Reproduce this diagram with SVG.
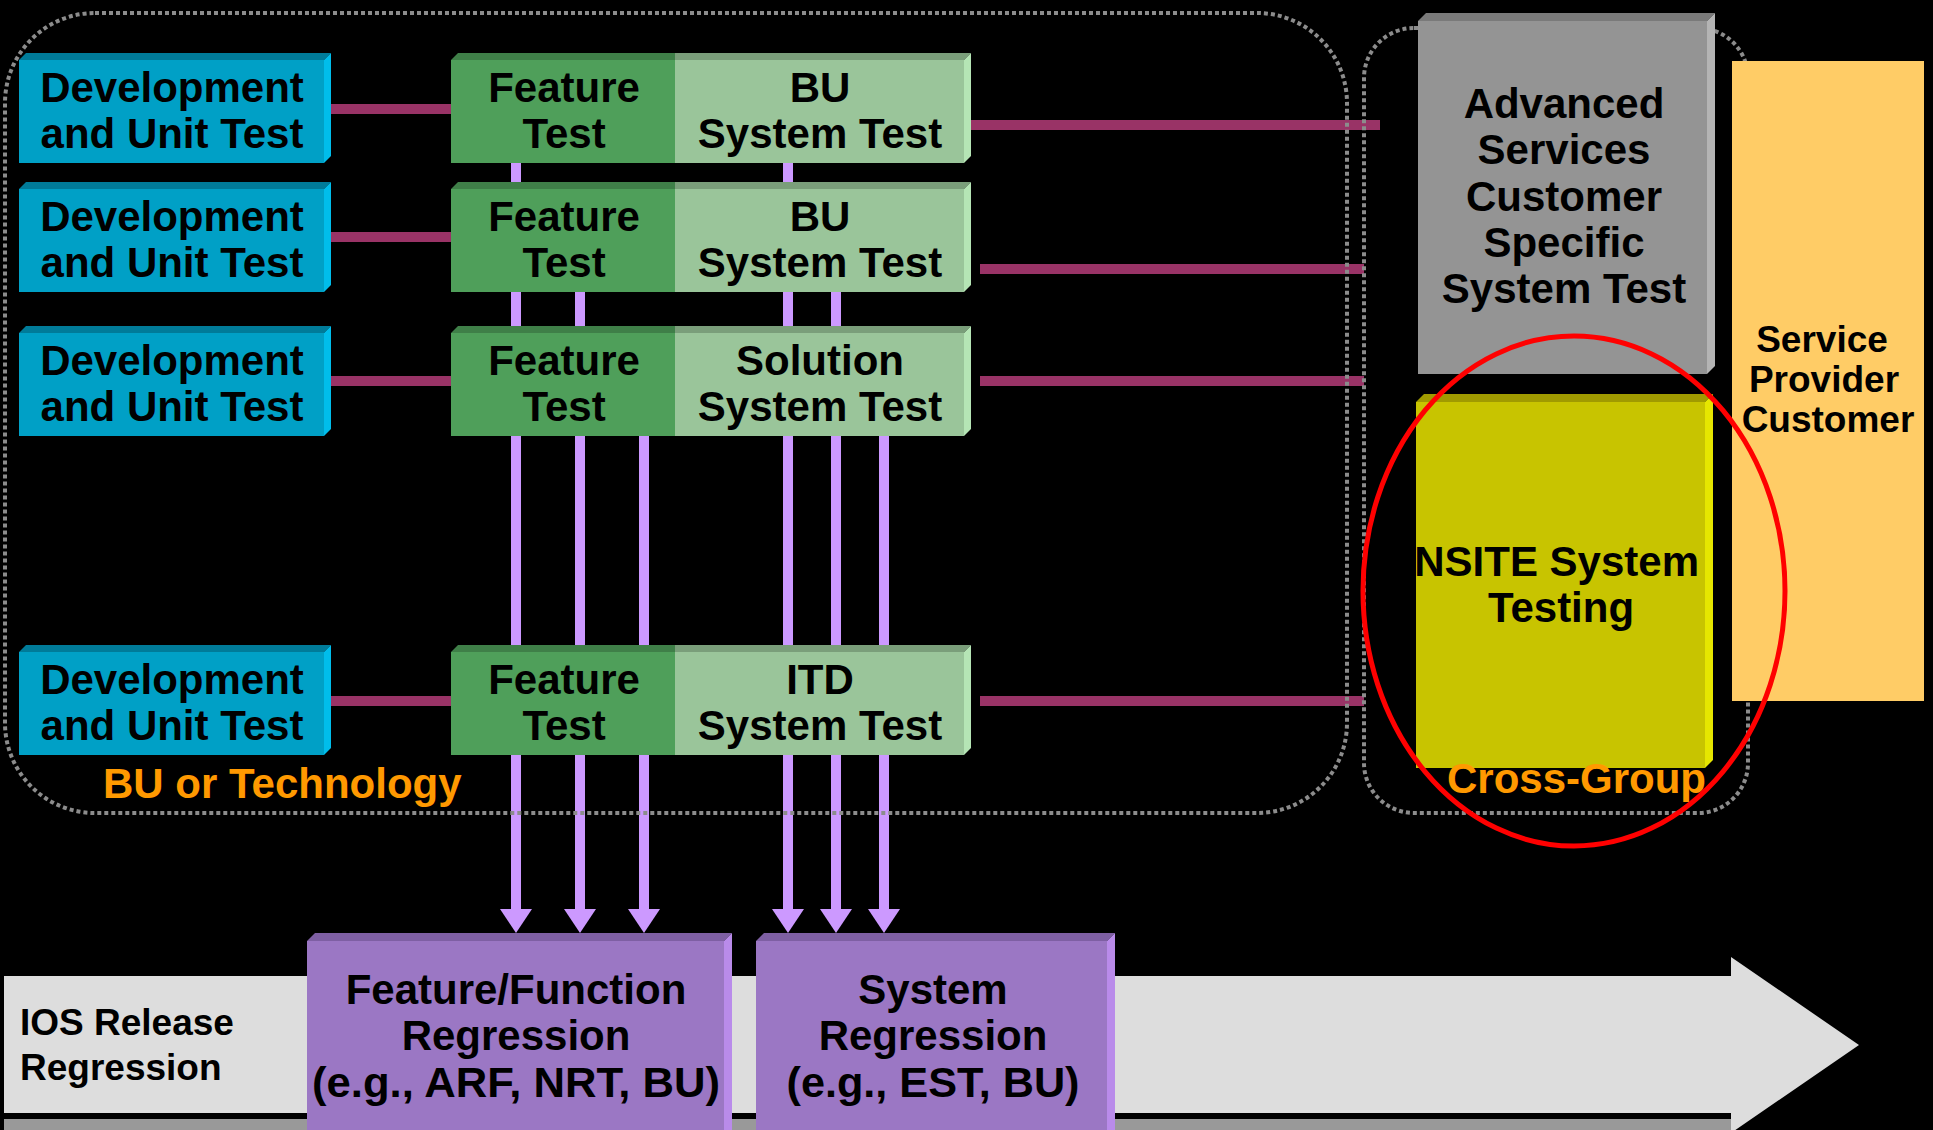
<svg xmlns="http://www.w3.org/2000/svg" width="1933" height="1130" viewBox="0 0 1933 1130">
<style>
.t{font-family:"Liberation Sans",Arial,sans-serif;font-weight:bold;font-size:42px;fill:#000;text-anchor:middle}
.s{font-size:37px;text-anchor:start}
.sp{font-size:37px}
.or{fill:#FF9900;text-anchor:start}
.dash{fill:none;stroke:#8c8c8c;stroke-width:4;stroke-dasharray:4 3}
.mar{fill:#993366}
.pl{fill:#CC99FF}
.devF{fill:#00A0C6}.devT{fill:#007B99}.devR{fill:#00BDEB}
.feF{fill:#4F9F5A}.feT{fill:#3F7F48}
.buF{fill:#9AC59A}.buT{fill:#7A9E7A}.buR{fill:#B5E5B5}
.puF{fill:#9B77C4}.puT{fill:#7E5FA3}.puR{fill:#B98BEA}
</style>
<rect width="1933" height="1130" fill="#000"/>
<g id="release-band">
<rect x="4" y="1119" width="1727" height="11" fill="#999"/>
<polygon points="4,976 1731,976 1731,957 1859,1045 1731,1133 1731,1113 4,1113" fill="#DDDDDD"/>
<text class="t s" x="20" y="1035">IOS Release</text>
<text class="t s" x="20" y="1080">Regression</text>
</g>
<g id="connectors">
<rect class="mar" x="331" y="104" width="120" height="10"/>
<rect class="mar" x="331" y="232" width="120" height="10"/>
<rect class="mar" x="331" y="376" width="120" height="10"/>
<rect class="mar" x="331" y="696" width="120" height="10"/>
<rect class="mar" x="971" y="120" width="409" height="10"/>
<rect class="mar" x="980" y="264" width="384" height="10"/>
<rect class="mar" x="980" y="376" width="384" height="10"/>
<rect class="mar" x="980" y="696" width="384" height="10"/>
<rect class="pl" x="511" y="163" width="10" height="747"/>
<rect class="pl" x="575" y="291" width="10" height="619"/>
<rect class="pl" x="639" y="435" width="10" height="475"/>
<rect class="pl" x="783" y="163" width="10" height="747"/>
<rect class="pl" x="831" y="291" width="10" height="619"/>
<rect class="pl" x="879" y="435" width="10" height="475"/>
<polygon class="pl" points="500,909 532,909 516,933"/>
<polygon class="pl" points="564,909 596,909 580,933"/>
<polygon class="pl" points="628,909 660,909 644,933"/>
<polygon class="pl" points="772,909 804,909 788,933"/>
<polygon class="pl" points="820,909 852,909 836,933"/>
<polygon class="pl" points="868,909 900,909 884,933"/>
</g>
<g id="groups">
<rect class="dash" x="5" y="13" width="1342" height="800" rx="90" ry="90"/>
<rect class="dash" x="1364" y="28" width="384" height="785" rx="50" ry="50"/>
<text class="t or" x="103" y="798">BU or Technology</text>
</g>
<g id="dev1">
<rect class="devF" x="19" y="60" width="305" height="103"/><polygon class="devT" points="19,60 26,53 331,53 324,60"/><polygon class="devR" points="324,60 331,53 331,156 324,163"/>
<text class="t" x="172" y="102">Development</text><text class="t" x="172" y="148">and Unit Test</text>
</g>
<g id="dev2">
<rect class="devF" x="19" y="189" width="305" height="103"/><polygon class="devT" points="19,189 26,182 331,182 324,189"/><polygon class="devR" points="324,189 331,182 331,285 324,292"/>
<text class="t" x="172" y="231">Development</text><text class="t" x="172" y="277">and Unit Test</text>
</g>
<g id="dev3">
<rect class="devF" x="19" y="333" width="305" height="103"/><polygon class="devT" points="19,333 26,326 331,326 324,333"/><polygon class="devR" points="324,333 331,326 331,429 324,436"/>
<text class="t" x="172" y="375">Development</text><text class="t" x="172" y="421">and Unit Test</text>
</g>
<g id="dev4">
<rect class="devF" x="19" y="652" width="305" height="103"/><polygon class="devT" points="19,652 26,645 331,645 324,652"/><polygon class="devR" points="324,652 331,645 331,748 324,755"/>
<text class="t" x="172" y="694">Development</text><text class="t" x="172" y="740">and Unit Test</text>
</g>
<g id="feat1">
<rect class="feF" x="451" y="60" width="224" height="103"/><polygon class="feT" points="451,60 458,53 675,53 675,60"/>
<text class="t" x="564" y="102">Feature</text><text class="t" x="564" y="148">Test</text>
</g>
<g id="bu1">
<rect class="buF" x="675" y="60" width="289" height="103"/><polygon class="buT" points="675,60 675,53 971,53 964,60"/><polygon class="buR" points="964,60 971,53 971,156 964,163"/>
<text class="t" x="820" y="102">BU</text><text class="t" x="820" y="148">System Test</text>
</g>
<g id="feat2">
<rect class="feF" x="451" y="189" width="224" height="103"/><polygon class="feT" points="451,189 458,182 675,182 675,189"/>
<text class="t" x="564" y="231">Feature</text><text class="t" x="564" y="277">Test</text>
</g>
<g id="bu2">
<rect class="buF" x="675" y="189" width="289" height="103"/><polygon class="buT" points="675,189 675,182 971,182 964,189"/><polygon class="buR" points="964,189 971,182 971,285 964,292"/>
<text class="t" x="820" y="231">BU</text><text class="t" x="820" y="277">System Test</text>
</g>
<g id="feat3">
<rect class="feF" x="451" y="333" width="224" height="103"/><polygon class="feT" points="451,333 458,326 675,326 675,333"/>
<text class="t" x="564" y="375">Feature</text><text class="t" x="564" y="421">Test</text>
</g>
<g id="solution">
<rect class="buF" x="675" y="333" width="289" height="103"/><polygon class="buT" points="675,333 675,326 971,326 964,333"/><polygon class="buR" points="964,333 971,326 971,429 964,436"/>
<text class="t" x="820" y="375">Solution</text><text class="t" x="820" y="421">System Test</text>
</g>
<g id="feat4">
<rect class="feF" x="451" y="652" width="224" height="103"/><polygon class="feT" points="451,652 458,645 675,645 675,652"/>
<text class="t" x="564" y="694">Feature</text><text class="t" x="564" y="740">Test</text>
</g>
<g id="itd">
<rect class="buF" x="675" y="652" width="289" height="103"/><polygon class="buT" points="675,652 675,645 971,645 964,652"/><polygon class="buR" points="964,652 971,645 971,748 964,755"/>
<text class="t" x="820" y="694">ITD</text><text class="t" x="820" y="740">System Test</text>
</g>
<g id="advanced">
<rect x="1418" y="21" width="289" height="353" fill="#949494"/><polygon points="1418,21 1426,13 1715,13 1707,21" fill="#7A7A7A"/><polygon points="1707,21 1715,13 1715,366 1707,374" fill="#B4B4B4"/>
<text class="t" x="1564" y="118">Advanced</text><text class="t" x="1564" y="164">Services</text><text class="t" x="1564" y="211">Customer</text><text class="t" x="1564" y="257">Specific</text><text class="t" x="1564" y="303">System Test</text>
</g>
<g id="insite">
<rect x="1416" y="402" width="289" height="366" fill="#C8C400"/><polygon points="1416,402 1424,394 1713,394 1705,402" fill="#A09A00"/><polygon points="1705,402 1713,394 1713,760 1705,768" fill="#E6E600"/>
<text class="t" x="1699" y="576" style="text-anchor:end">NSITE System</text><text class="t" x="1561" y="622">Testing</text>
</g>
<g id="service-provider">
<rect x="1732" y="61" width="192" height="640" fill="#FFCC66"/>
<text class="t sp" x="1822" y="352">Service</text><text class="t sp" x="1824" y="392">Provider</text><text class="t sp" x="1828" y="432">Customer</text>
</g>
<text class="t or" x="1447" y="793">Cross-Group</text>
<g id="feature-regression">
<rect class="puF" x="307" y="941" width="417" height="200"/><polygon class="puT" points="307,941 315,933 732,933 724,941"/><polygon class="puR" points="724,941 732,933 732,1141 724,1141"/>
<text class="t" x="516" y="1004">Feature/Function</text><text class="t" x="516" y="1050">Regression</text><text class="t" x="516" y="1097" textLength="408" lengthAdjust="spacingAndGlyphs">(e.g., ARF, NRT, BU)</text>
</g>
<g id="system-regression">
<rect class="puF" x="756" y="941" width="351" height="200"/><polygon class="puT" points="756,941 764,933 1115,933 1107,941"/><polygon class="puR" points="1107,941 1115,933 1115,1141 1107,1141"/>
<text class="t" x="933" y="1004">System</text><text class="t" x="933" y="1050">Regression</text><text class="t" x="933" y="1097" textLength="293" lengthAdjust="spacingAndGlyphs">(e.g., EST, BU)</text>
</g>
<ellipse id="highlight" cx="1574" cy="591" rx="211" ry="255" fill="none" stroke="#FF0000" stroke-width="5"/>
</svg>
